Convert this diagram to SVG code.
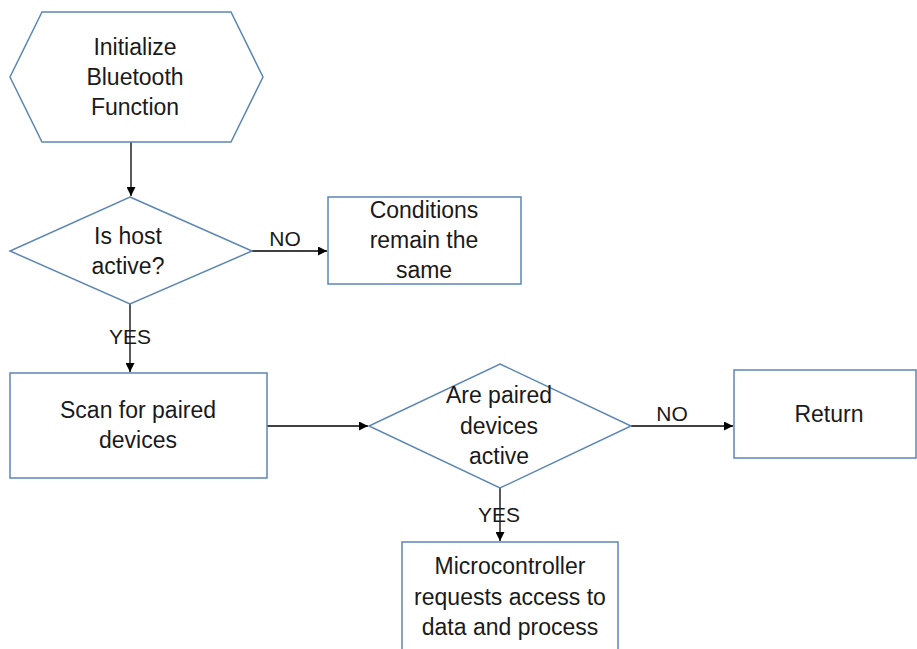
<svg xmlns="http://www.w3.org/2000/svg" width="917" height="649" viewBox="0 0 917 649">
<defs>
<style>
.shape{fill:#ffffff;stroke:#5b86b5;stroke-width:1.5}
.conn{fill:none;stroke:#000000;stroke-width:1.3}
text{font-family:"Liberation Sans",Arial,sans-serif;font-size:23px;fill:#1a1a1a;text-anchor:middle}
.lbl{font-size:21px}
</style>
<marker id="arr" viewBox="0 0 10 10" refX="10" refY="5" markerWidth="9" markerHeight="9" markerUnits="userSpaceOnUse" orient="auto">
<path d="M0,0 L10,5 L0,10 z" fill="#000000"/>
</marker>
</defs>
<rect width="917" height="649" fill="#ffffff"/>
<g id="connectors">
<line class="conn" x1="131" y1="142" x2="131" y2="196" marker-end="url(#arr)"/>
<line class="conn" x1="252" y1="251" x2="327" y2="251" marker-end="url(#arr)"/>
<line class="conn" x1="130" y1="304" x2="130" y2="372" marker-end="url(#arr)"/>
<line class="conn" x1="267" y1="426" x2="368" y2="426" marker-end="url(#arr)"/>
<line class="conn" x1="631" y1="426" x2="733" y2="426" marker-end="url(#arr)"/>
<line class="conn" x1="500" y1="488" x2="500" y2="541" marker-end="url(#arr)"/>
<text class="lbl" x="285" y="246">NO</text>
<text class="lbl" x="130" y="344">YES</text>
<text class="lbl" x="672" y="421">NO</text>
<text class="lbl" x="499" y="522">YES</text>
</g>
<g id="init">
<polygon class="shape" points="42,12 231,12 263,77 231,142 42,142 10,77"/>
<text x="135" y="55">Initialize</text>
<text x="135" y="85">Bluetooth</text>
<text x="135" y="115">Function</text>
</g>
<g id="host">
<polygon class="shape" points="130,197 252,251 130,304 10,251"/>
<text x="128" y="244">Is host</text>
<text x="128" y="274">active?</text>
</g>
<g id="conditions">
<rect class="shape" x="328" y="197" width="193" height="87"/>
<text x="424" y="218">Conditions</text>
<text x="424" y="248">remain the</text>
<text x="424" y="278">same</text>
</g>
<g id="scan">
<rect class="shape" x="10" y="373" width="257" height="105"/>
<text x="138" y="418">Scan for paired</text>
<text x="138" y="448">devices</text>
</g>
<g id="paired">
<polygon class="shape" points="500,364 631,426 500,488 369,426"/>
<text x="499" y="403">Are paired</text>
<text x="499" y="434">devices</text>
<text x="499" y="464">active</text>
</g>
<g id="return">
<rect class="shape" x="734" y="370" width="182" height="88"/>
<text x="829" y="422">Return</text>
</g>
<g id="micro">
<rect class="shape" x="402" y="542" width="216" height="130"/>
<text x="510" y="574">Microcontroller</text>
<text x="510" y="605">requests access to</text>
<text x="510" y="635">data and process</text>
</g>
</svg>
